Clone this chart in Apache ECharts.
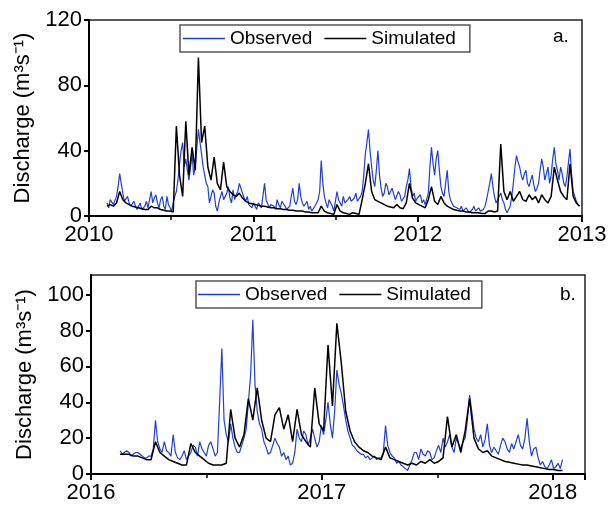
<!DOCTYPE html>
<html><head><meta charset="utf-8">
<script src="https://cdn.jsdelivr.net/npm/echarts@6/dist/echarts.min.js"></script>
<style>html,body{margin:0;padding:0;background:#fff}#c{width:610px;height:505px}</style>
</head><body><div id="c"></div>
<script>
// Dates as decimal years. Observed read every 3.5 days, simulated every 7 days.
const obsStep = 3.5 / 365.25;
const simStep = 7 / 365.25;
const topStart = 2010.11;
const bottomStart = 2016.126;

const topTicks = [2010, 2011, 2012, 2013];
const bottomTicks = [2016, 2017, 2018];

const topObserved = [
  8,5,10,11,7,6,12,18,26,20,14,9,10,12,8,6,7,9,6,4,
  5,8,4,3,6,9,5,10,15,8,11,13,8,5,10,12,6,4,12,7,
  5,3,8,12,15,22,32,40,45,30,35,28,22,30,38,25,30,42,53,45,
  38,30,25,20,18,8,12,16,14,6,3,8,12,15,10,9,14,18,11,8,
  16,10,13,15,20,17,14,11,9,12,7,6,5,8,6,4,8,7,5,6,
  20,10,9,5,7,8,6,4,10,7,5,9,8,6,4,5,6,12,17,9,
  7,10,20,12,8,6,5,9,4,6,3,2,6,8,10,15,34,20,12,8,
  5,10,8,6,3,9,15,10,9,6,12,8,7,10,12,9,8,11,14,9,
  10,12,15,25,38,45,53,40,30,22,18,28,40,25,17,12,14,20,18,13,
  12,17,16,10,11,15,13,9,8,12,18,22,29,18,12,14,9,11,10,13,
  8,10,7,6,14,30,42,32,25,35,40,28,18,14,12,20,28,15,10,8,
  6,7,5,4,4,6,3,2,5,4,2,3,4,6,3,4,5,3,2,4,
  6,10,15,20,26,18,12,8,10,12,14,10,8,4,2,3,6,12,20,30,
  37,33,30,25,22,26,28,20,18,22,25,19,15,17,20,28,35,30,22,26,
  30,20,25,35,42,32,28,22,30,26,20,18,24,33,41,25,15,12,9,7,
  6
];
const topSimulated = [
  6,7,6,8,15,10,8,7,6,5.5,
  5,4.5,4,4,6,5,5,4,3.5,3,
  3,2.5,55,25,12,58,25,42,28,97,
  45,55,30,22,36,20,16,33,18,15,
  13,12,14,11,9,8,7.5,7,6.5,6,
  6,5.5,5,5,4.5,4.5,4,4,3.5,3.5,
  3,3,3,2.5,2.5,2,2,2,6,3,
  2,1.5,1,7,3,2,1.5,1,2,1.5,
  1,10,20,32,15,10,9,8,7,6,
  5.5,5,7,5,4.5,8,20,11,8,7,
  6,5,10,18,9,7,12,8,6,5,
  4,3.5,3,3,2.5,2.5,2,2,2,1.5,
  1.5,3,3,2.5,3,44,15,10,15,9,
  12,15,10,9,13,10,12,8,13,10,
  8,12,30,22,15,12,10,32,12,8,
  6
];
const bottomObserved = [
  13,11,12,13,12,10,11,12,12,11,10,9,9,10,10,14,30,18,14,12,
  18,13,12,10,22,12,9,8,10,13,8,10,12,16,15,10,18,14,12,10,
  16,18,14,10,12,40,70,30,22,18,28,20,15,12,12,16,20,25,40,55,
  86,50,35,28,25,18,15,11,12,16,20,17,15,10,12,8,10,5,6,12,
  25,20,18,24,22,16,20,25,20,15,18,27,22,30,40,28,20,35,58,50,
  45,38,30,24,20,16,15,13,12,11,11,9,10,8,9,10,8,9,9,12,
  27,16,12,10,9,6,7,5,4,3,2,5,8,12,12,8,14,11,10,13,
  12,8,9,13,16,12,20,15,18,22,15,12,20,17,14,18,20,30,44,35,
  25,20,18,22,15,19,28,16,12,15,13,11,16,20,18,14,12,17,14,18,
  22,16,14,20,31,18,10,14,15,9,5,7,4,3,5,8,3,4,6,3,
  8
];
const bottomSimulated = [
  11,11,11,10,10,9,8,8,18,12,
  10,8,7,6,5,5,17,12,10,8,
  6,5,5,5,6,36,20,15,22,42,
  30,48,30,20,18,33,37,25,33,18,
  36,22,18,15,48,28,24,72,38,84,
  62,35,24,18,15,13,12,10,9,8,
  15,9,8,7,6,5,6,5,7,6,
  8,6,7,9,32,15,22,12,24,42,
  20,14,12,13,10,9,8,7,6.5,6,
  5.5,5,5,4.5,4,3.5,3,2.5,2.5,2,
  2
];

function pairs(start, step, vals) { return vals.map((v, i) => [start + i * step, v]); }

const FONT = 'Liberation Sans, Arial, Helvetica, sans-serif';
const BLUE = '#1f3fd6';
const BLACK = '#000000';
const yName = 'Discharge (m\u00B3s\u207B\u00B9)';

function xAxisCfg(idx, min, max, showMax) {
  return {
    type: 'value', gridIndex: idx, min: min, max: max, interval: 1,
    axisLine: { show: true, lineStyle: { color: '#000', width: 2 } },
    axisTick: { show: true, length: 6, lineStyle: { color: '#000', width: 2 } },
    minorTick: { show: true, splitNumber: 2, length: 4, lineStyle: { color: '#000', width: 1.5 } },
    splitLine: { show: false },
    axisLabel: { fontSize: 22, color: '#000', fontFamily: FONT, margin: 8, showMaxLabel: showMax,
      formatter: v => String(Math.round(v)) }
  };
}
function yAxisCfg(idx, max, interval) {
  return {
    type: 'value', gridIndex: idx, min: 0, max: max, interval: interval,
    name: yName, nameLocation: 'middle', nameGap: 52,
    nameTextStyle: { fontSize: 22, color: '#000', fontFamily: FONT },
    axisLine: { show: true, lineStyle: { color: '#000', width: 2 } },
    axisTick: { show: true, length: 5, lineStyle: { color: '#000', width: 2 } },
    splitLine: { show: false },
    axisLabel: { fontSize: 22, color: '#000', fontFamily: FONT, margin: 7, showMaxLabel: max % interval === 0 }
  };
}
function legendCfg(left, top, padding) {
  return {
    left: left, top: top, orient: 'horizontal',
    data: [{ name: 'Observed', icon: 'rect' }, { name: 'Simulated', icon: 'rect' }],
    itemWidth: 42, itemHeight: 1.6, itemGap: 12,
    padding: padding, borderColor: '#555', borderWidth: 1.5,
    backgroundColor: '#fff',
    textStyle: { fontSize: 19, color: '#000', fontFamily: FONT, lineHeight: 19 }
  };
}

const chart = echarts.init(document.getElementById('c'), null, { renderer: 'canvas' });
chart.setOption({
  animation: false,
  backgroundColor: '#ffffff',
  grid: [
    { left: 89, top: 20, width: 493, height: 196, show: true, borderColor: '#222', borderWidth: 1.5, backgroundColor: 'transparent' },
    { left: 91, top: 275, width: 494, height: 199, show: true, borderColor: '#222', borderWidth: 1.5, backgroundColor: 'transparent' }
  ],
  xAxis: [ xAxisCfg(0, 2010, 2013, true), xAxisCfg(1, 2016, 2018.14, false) ],
  yAxis: [ yAxisCfg(0, 120, 40), yAxisCfg(1, 111, 20) ],
  legend: [ legendCfg(180, 25, [4, 14, 4, 3]), legendCfg(196, 281, [4, 11, 4, 2]) ],
  title: [
    { text: 'a.', left: 553, top: 27, padding: 0, textStyle: { fontSize: 19, fontWeight: 'normal', color: '#000', fontFamily: FONT } },
    { text: 'b.', left: 560, top: 285, padding: 0, textStyle: { fontSize: 19, fontWeight: 'normal', color: '#000', fontFamily: FONT } }
  ],
  series: [
    { name: 'Observed', type: 'line', xAxisIndex: 0, yAxisIndex: 0, data: pairs(topStart, obsStep, topObserved),
      symbol: 'none', showSymbol: false, lineStyle: { color: BLUE, width: 1.2 }, itemStyle: { color: BLUE } },
    { name: 'Simulated', type: 'line', xAxisIndex: 0, yAxisIndex: 0, data: pairs(topStart, simStep, topSimulated),
      symbol: 'none', showSymbol: false, lineStyle: { color: BLACK, width: 1.5 }, itemStyle: { color: BLACK } },
    { name: 'Observed', type: 'line', xAxisIndex: 1, yAxisIndex: 1, data: pairs(bottomStart, obsStep, bottomObserved),
      symbol: 'none', showSymbol: false, lineStyle: { color: BLUE, width: 1.2 }, itemStyle: { color: BLUE } },
    { name: 'Simulated', type: 'line', xAxisIndex: 1, yAxisIndex: 1, data: pairs(bottomStart, simStep, bottomSimulated),
      symbol: 'none', showSymbol: false, lineStyle: { color: BLACK, width: 1.5 }, itemStyle: { color: BLACK } }
  ]
});
</script>
</body></html>
